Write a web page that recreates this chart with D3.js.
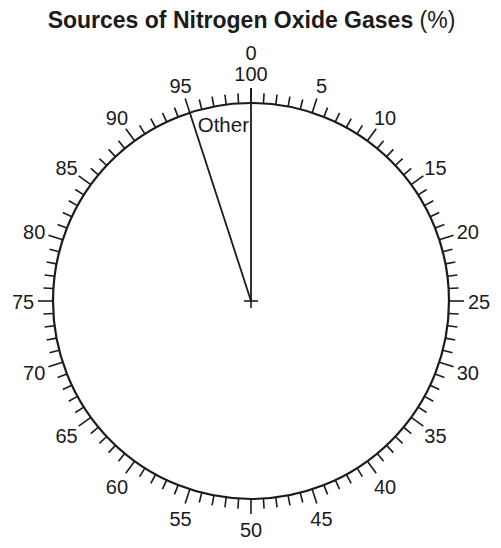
<!DOCTYPE html>
<html>
<head>
<meta charset="utf-8">
<script src="https://cdn.jsdelivr.net/npm/d3@7"></script>
<style>
  html, body { margin: 0; padding: 0; background: #fff; }
  svg { display: block; }
</style>
</head>
<body>
<script>
// ---- data ----
const sliceLabels = ["Other"];
const sliceValues = [5];           // percent, drawn counter-clockwise back from 100
const tickValues = d3.range(0, 100, 1);        // minor ticks every 1%
const majorTickValues = d3.range(0, 100, 5);   // labelled ticks every 5%
const tickLabels = ["100","5","10","15","20","25","30","35","40","45","50","55","60","65","70","75","80","85","90","95"];
const topExtraLabel = "0";
const titleBold = "Sources of Nitrogen Oxide Gases";
const titleUnit = "(%)";

// ---- layout ----
const W = 501, H = 548;
const cx = 251, cy = 301, R = 198;
const ink = "#1b1b1b";
const font = "'Liberation Sans', Arial, Helvetica, sans-serif";

const svg = d3.select("body").append("svg").attr("width", W).attr("height", H);

const angle = d3.scaleLinear().domain([0, 100]).range([0, 2 * Math.PI]);
const px = (v, r) => cx + r * Math.sin(angle(v));
const py = (v, r) => cy - r * Math.cos(angle(v));

// title
const title = svg.append("text")
  .attr("x", W / 2 + 1).attr("y", 28)
  .attr("text-anchor", "middle")
  .attr("font-family", font).attr("font-size", 23).attr("fill", ink);
title.append("tspan").attr("font-weight", "bold").text(titleBold + " ");
title.append("tspan").attr("font-weight", "normal").text(titleUnit);

const g = svg.append("g");

// ticks
const majorSet = new Set(majorTickValues);
g.selectAll("line.tick").data(tickValues).join("line")
  .attr("class", "tick")
  .attr("x1", d => px(d, R)).attr("y1", d => py(d, R))
  .attr("x2", d => px(d, R + (majorSet.has(d) ? 15 : 10)))
  .attr("y2", d => py(d, R + (majorSet.has(d) ? 15 : 10)))
  .attr("stroke", ink).attr("stroke-width", 1.6);

// circle
g.append("circle").attr("cx", cx).attr("cy", cy).attr("r", R)
  .attr("fill", "none").attr("stroke", ink).attr("stroke-width", 2.2);

// tick labels
const LR = 228;
g.selectAll("text.lab").data(majorTickValues).join("text")
  .attr("class", "lab")
  .attr("x", d => px(d, LR)).attr("y", d => py(d, LR))
  .attr("dy", "0.42em")
  .attr("text-anchor", "middle")
  .attr("font-family", font).attr("font-size", 20).attr("fill", ink)
  .text((d, i) => tickLabels[i]);
g.append("text")
  .attr("x", px(0, LR)).attr("y", py(0, LR) - 21)
  .attr("dy", "0.42em").attr("text-anchor", "middle")
  .attr("font-family", font).attr("font-size", 20).attr("fill", ink)
  .text(topExtraLabel);

// slices: boundaries measured back from 100
let acc = 100;
const slices = sliceLabels.map((l, i) => {
  const end = acc, start = acc - sliceValues[i];
  acc = start;
  return { label: l, start, end };
});
const bounds = [100].concat(slices.map(s => s.start));
g.selectAll("line.radius").data(bounds).join("line")
  .attr("class", "radius")
  .attr("x1", cx).attr("y1", cy)
  .attr("x2", d => px(d, d === 100 ? R + 15 : R))
  .attr("y2", d => py(d, d === 100 ? R + 15 : R))
  .attr("stroke", ink).attr("stroke-width", 1.8);

// slice labels
g.selectAll("text.slice").data(slices).join("text")
  .attr("class", "slice")
  .attr("x", d => px(d.end, R - 24) - 2)
  .attr("y", d => py(d.end, R - 24) + 5)
  .attr("text-anchor", "end")
  .attr("font-family", font).attr("font-size", 20.5).attr("fill", ink)
  .text(d => d.label);

// center cross
g.append("line").attr("x1", cx - 7).attr("x2", cx + 7).attr("y1", cy).attr("y2", cy)
  .attr("stroke", ink).attr("stroke-width", 1.6);
g.append("line").attr("x1", cx).attr("x2", cx).attr("y1", cy).attr("y2", cy + 7)
  .attr("stroke", ink).attr("stroke-width", 1.6);
</script>
</body>
</html>
